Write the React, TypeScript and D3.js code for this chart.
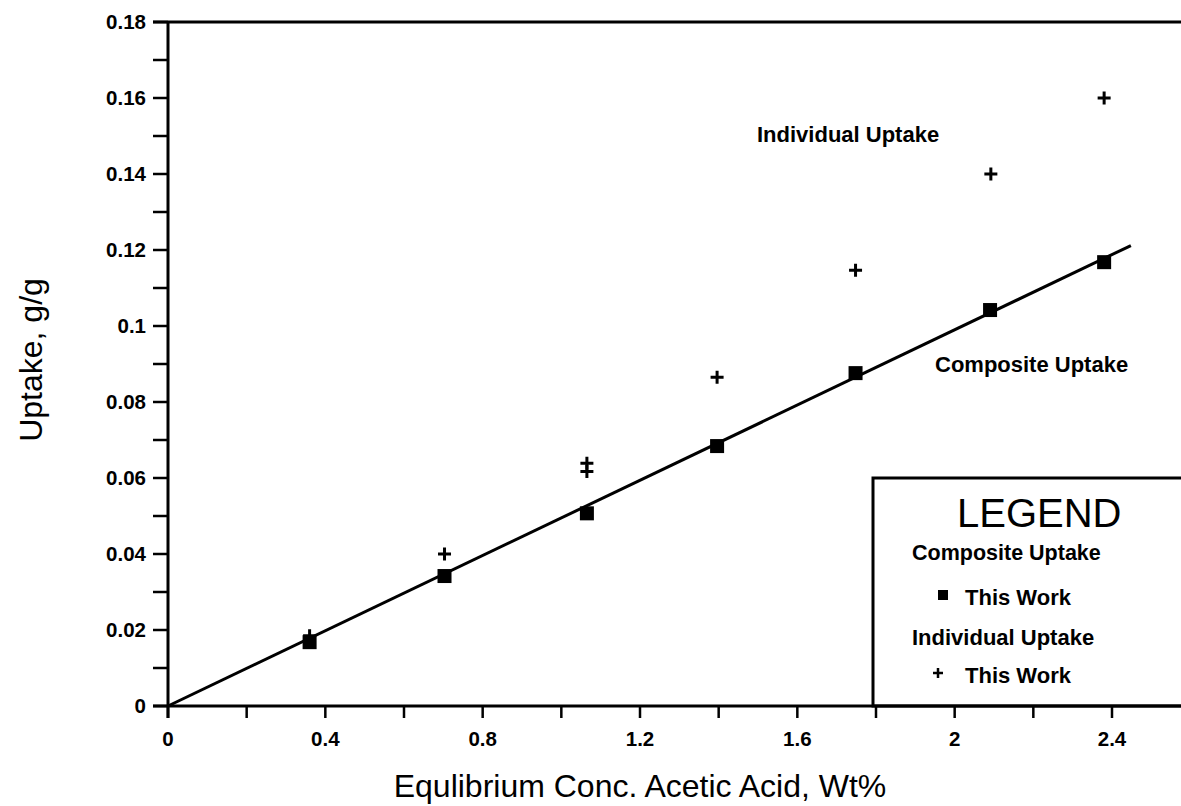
import React from "react";
import * as d3 from "d3";

const compositeX = [0.36, 0.703, 1.065, 1.396, 1.748, 2.09, 2.38];
const compositeY = [0.0168, 0.0342, 0.0507, 0.0684, 0.0876, 0.1042, 0.1168];
const individualX = [0.36, 0.703, 1.065, 1.065, 1.396, 1.748, 2.092, 2.38];
const individualY = [0.0185, 0.04, 0.0639, 0.0617, 0.0865, 0.1147, 0.14, 0.16];
const fitSlope = 0.0495;
const fitRange = [0, 2.448];
const xTicks = [0, 0.2, 0.4, 0.6, 0.8, 1.0, 1.2, 1.4, 1.6, 1.8, 2.0, 2.2, 2.4];
const xLabels = [0, 0.4, 0.8, 1.2, 1.6, 2, 2.4];
const yTicks = [0, 0.01, 0.02, 0.03, 0.04, 0.05, 0.06, 0.07, 0.08, 0.09, 0.1, 0.11, 0.12, 0.13, 0.14, 0.15, 0.16, 0.17, 0.18];
const yLabels = [0, 0.02, 0.04, 0.06, 0.08, 0.1, 0.12, 0.14, 0.16, 0.18];

export default function App() {
  const W = 1181, H = 806;
  const x = d3.scaleLinear().domain([0, 2.4]).range([168, 1112]);
  const y = d3.scaleLinear().domain([0, 0.18]).range([706, 22]);
  const fmt = (v: number) => String(+v.toFixed(2));
  const line = d3.line<number>().x((d) => x(d)).y((d) => y(fitSlope * d));
  const lblFont = "'Liberation Sans', Arial, Helvetica, sans-serif";
  const tickFont = lblFont;
  const plus = (cx: number, cy: number, r: number) =>
    `M${cx - r},${cy}H${cx + r}M${cx},${cy - r}V${cy + r}`;
  return (
    <svg width={W} height={H} style={{ position: "absolute", left: 0, top: 0, background: "#fff" }}>
      <rect x={0} y={0} width={W} height={H} fill="#fff" />
      {/* legend box */}
      <rect x={873} y={478} width={330} height={228} fill="#fff" stroke="#000" strokeWidth={3} />
      {/* axes */}
      <line x1={153} x2={W} y1={y(0.18)} y2={y(0.18)} stroke="#000" strokeWidth={3} />
      <line x1={153} x2={W} y1={y(0)} y2={y(0)} stroke="#000" strokeWidth={3} />
      <line x1={x(0)} x2={x(0)} y1={y(0.18)} y2={718} stroke="#000" strokeWidth={3} />
      {yTicks.map((t) => (
        <line key={"yt" + t} x1={153} x2={x(0)} y1={y(t)} y2={y(t)} stroke="#000" strokeWidth={2.5} />
      ))}
      {xTicks.map((t) => (
        <line key={"xt" + t} x1={x(t)} x2={x(t)} y1={y(0)} y2={718} stroke="#000" strokeWidth={2.5} />
      ))}
      {yLabels.map((t) => (
        <text key={"yl" + t} x={146} y={y(t)} dy="0.36em" textAnchor="end" fontFamily={tickFont} fontWeight="bold" fontSize={20.5}>
          {fmt(t)}
        </text>
      ))}
      {xLabels.map((t) => (
        <text key={"xl" + t} x={x(t)} y={746} textAnchor="middle" fontFamily={tickFont} fontWeight="bold" fontSize={20.5}>
          {fmt(t)}
        </text>
      ))}
      <text x={640} y={797} textAnchor="middle" fontFamily={lblFont} fontSize={32}>
        Equlibrium Conc. Acetic Acid, Wt%
      </text>
      <text transform="translate(42,360) rotate(-90)" textAnchor="middle" fontFamily={lblFont} fontSize={32}>
        Uptake, g/g
      </text>
      {/* fit line */}
      <path d={line(fitRange) || ""} fill="none" stroke="#000" strokeWidth={3} />
      {/* individual points */}
      {individualX.map((v, i) => (
        <path key={"ip" + i} d={plus(x(v), y(individualY[i]), 6.5)} stroke="#000" strokeWidth={3} fill="none" />
      ))}
      {/* composite points */}
      {compositeX.map((v, i) => (
        <rect key={"cp" + i} x={x(v) - 7} y={y(compositeY[i]) - 7} width={14} height={14} fill="#000" />
      ))}
      {/* annotations */}
      <text x={757} y={142} fontFamily={lblFont} fontWeight="bold" fontSize={22}>Individual Uptake</text>
      <text x={935} y={372} fontFamily={lblFont} fontWeight="bold" fontSize={22}>Composite Uptake</text>
      {/* legend */}
      <text x={957} y={527} fontFamily={lblFont} fontSize={40}>LEGEND</text>
      <text x={912} y={560} fontFamily={lblFont} fontWeight="bold" fontSize={21.5}>Composite Uptake</text>
      <rect x={938} y={590} width={10} height={10} fill="#000" />
      <text x={965} y={605} fontFamily={lblFont} fontWeight="bold" fontSize={22}>This Work</text>
      <text x={912} y={645} fontFamily={lblFont} fontWeight="bold" fontSize={22}>Individual Uptake</text>
      <path d={plus(938, 673, 5)} stroke="#000" strokeWidth={2.5} fill="none" />
      <text x={965} y={683} fontFamily={lblFont} fontWeight="bold" fontSize={22}>This Work</text>
    </svg>
  );
}
